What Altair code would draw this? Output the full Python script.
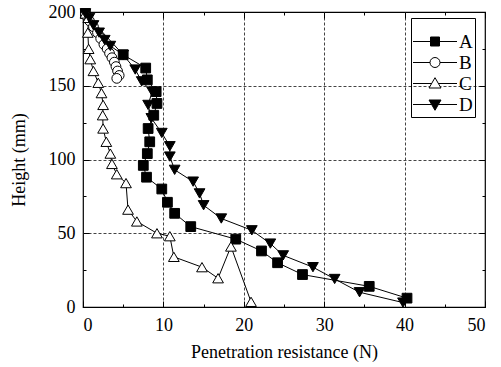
import altair as alt
import pandas as pd

# ---- data ----
A_x = [0.3, 5.0, 7.8, 8.0, 9.1, 9.2, 8.8, 8.1, 8.3, 8.0, 7.5, 7.9, 9.8, 10.5, 11.4, 13.4, 19.0, 22.2, 24.2, 27.3, 35.6, 40.3]
A_y = [199, 171, 162, 154, 146, 138, 130, 121, 112, 104, 96, 88, 80, 71, 63.5, 54.5, 46, 38, 30, 22, 14, 6]

B_x = [0.3, 0.8, 1.3, 1.8, 2.2, 2.6, 3.0, 3.3, 3.6, 3.9, 4.1, 4.3, 4.5, 4.2]
B_y = [198, 194, 190, 186, 182, 178, 175, 172, 169, 166, 163, 160, 157, 155]

C_x = [0.3, 0.66, 0.6, 0.7, 0.9, 1.3, 1.9, 2.3, 2.5, 2.45, 2.5, 2.9, 3.4, 3.6, 4.2, 5.35, 5.6, 6.7, 9.2, 10.8, 11.3, 14.8, 16.8, 18.4, 20.9]
C_y = [199, 196, 186, 175, 168, 160, 152, 145, 137, 130, 121, 112, 104, 97, 90, 84, 66, 58, 50, 48, 34, 27, 19.5, 41, 3.5]

D_x = [0.3, 0.8, 1.3, 2.0, 2.7, 3.4, 5.0, 6.5, 7.3, 8.6, 8.1, 8.5, 9.8, 10.8, 10.8, 11.4, 13.7, 14.5, 15.0, 17.2, 21.0, 23.3, 24.9, 28.6, 31.3, 34.4, 39.8]
D_y = [199, 196, 191, 186, 181, 177, 171, 161, 153, 146, 137, 128, 118, 109, 102, 93, 85, 77, 69, 60, 52, 43, 35, 27, 19, 10, 3]

series_names = ["A", "B", "C", "D"]
x_major = [0, 10, 20, 30, 40, 50]
x_minor = [5, 15, 25, 35, 45]
y_major = [0, 50, 100, 150, 200]
y_minor = [25, 75, 125, 175]
x_grid = [10, 20, 30, 40]
y_grid = [50, 100, 150]

rows = []
for name, xs, ys in zip(series_names, [A_x, B_x, C_x, D_x], [A_y, B_y, C_y, D_y]):
    for i, (xv, yv) in enumerate(zip(xs, ys)):
        rows.append({"series": name, "x": xv, "y": yv, "i": i})
df = pd.DataFrame(rows)

FONT = "Liberation Serif"
FS = 18
xscale = alt.Scale(domain=[0, 50], nice=False, zero=False)
yscale = alt.Scale(domain=[0, 200], nice=False, zero=False)


def ax(orient, values, size=0, labels=False, grid=False, title=None, pad=6, tpad=4):
    kw = dict(orient=orient, values=values, domain=False, labels=labels, grid=grid,
              title=title, labelFont=FONT, labelFontSize=FS, labelColor="black",
              titleFont=FONT, titleFontSize=FS, titleColor="black", titleFontWeight="normal",
              tickColor="black", tickWidth=1, labelPadding=pad, titlePadding=tpad)
    if size > 0:
        kw.update(ticks=True, tickSize=size, offset=-size)
    else:
        kw.update(ticks=False)
    if grid:
        kw.update(gridColor="#444444", gridDash=[3, 2], gridWidth=1, gridOpacity=1)
    return alt.Axis(**kw)


base = alt.Chart(df)
X = "x:Q"
Y = "y:Q"


def empty_layer(xaxis, yaxis):
    return base.transform_filter("false").mark_point(opacity=0).encode(
        x=alt.X(X, scale=xscale, axis=xaxis),
        y=alt.Y(Y, scale=yscale, axis=yaxis),
    )


grid_layer = empty_layer(ax("bottom", x_grid, grid=True), ax("left", y_grid, grid=True))
minor1 = empty_layer(ax("bottom", x_minor, 3), ax("left", y_minor, 3))
minor2 = empty_layer(ax("top", x_minor, 3), ax("right", y_minor, 3))
major_tr = empty_layer(ax("top", x_major, 6), ax("right", y_major, 6))

lines = base.mark_line(color="black", strokeWidth=1).encode(
    x=alt.X(X, scale=xscale, axis=ax("bottom", x_major, 6, labels=True,
                                      title="Penetration resistance (N)", pad=9, tpad=9)),
    y=alt.Y(Y, scale=yscale, axis=ax("left", y_major, 6, labels=True,
                                      title="Height (mm)", pad=8, tpad=20)),
    detail="series:N",
    order="i:Q",
)

point_shapes = ["square", "circle", "triangle-up", "triangle-down"]
point_fills = ["black", "white", "white", "black"]
point_sizes = [95, 95, 115, 115]
point_layers = []
for name, shp, fil, sz in zip(series_names, point_shapes, point_fills, point_sizes):
    point_layers.append(
        base.transform_filter(alt.datum.series == name).mark_point(
            shape=shp, filled=True, fill=fil, stroke="black", strokeWidth=1, size=sz, opacity=1
        ).encode(
            x=alt.X(X, scale=xscale, axis=None),
            y=alt.Y(Y, scale=yscale, axis=None),
        )
    )

# legend symbols: line - marker - line
paths = [
    "M-1.05,0H0.7M0.7,-0.45H1.6V0.45H0.7ZM1.6,0H3.35",
    "M-1.05,0H0.65M0.65,0A0.5,0.5 0 1,1 1.65,0A0.5,0.5 0 1,1 0.65,0ZM1.65,0H3.35",
    "M-1.05,0H0.81M1.15,-0.58L1.75,0.45H0.55ZM1.49,0H3.35",
    "M-1.05,0H0.81M0.55,-0.45H1.75L1.15,0.58ZM1.49,0H3.35",
]
leg = alt.Legend(title=" ", titleFontSize=9, titlePadding=2, orient="none",
                 legendX=328, legendY=6,
                 strokeColor="black", padding=2, symbolSize=400,
                 labelOffset=25, labelFont=FONT, labelFontSize=19, labelColor="black",
                 rowPadding=0, symbolStrokeColor="black", symbolStrokeWidth=1,
                 symbolOpacity=1)

legend_layer = base.transform_filter("false").mark_point(
    filled=True, strokeWidth=1, opacity=1).encode(
    x=alt.X(X, scale=xscale, axis=None),
    y=alt.Y(Y, scale=yscale, axis=None),
    shape=alt.Shape("series:N", scale=alt.Scale(domain=series_names, range=paths), legend=leg),
    fill=alt.Fill("series:N", scale=alt.Scale(domain=series_names, range=point_fills), legend=leg),
    stroke=alt.Stroke("series:N", scale=alt.Scale(domain=series_names,
                      range=["black", "black", "black", "black"]), legend=leg),
)

chart = alt.layer(
    grid_layer, minor1, minor2, major_tr, lines, *point_layers, legend_layer
).resolve_axis(
    x="independent", y="independent"
).properties(
    width=402, height=295,
    autosize=alt.AutoSizeParams(type="none"),
    padding={"left": 83, "top": 12, "right": 16, "bottom": 60},
    background="white",
).configure_view(
    stroke="black", strokeWidth=1.2
).configure_axis(
    labelFont=FONT, titleFont=FONT
).configure_legend(
    labelFont=FONT, titleFont=FONT
)

chart.save("out.html", embed_options={"renderer": "svg", "actions": False})
